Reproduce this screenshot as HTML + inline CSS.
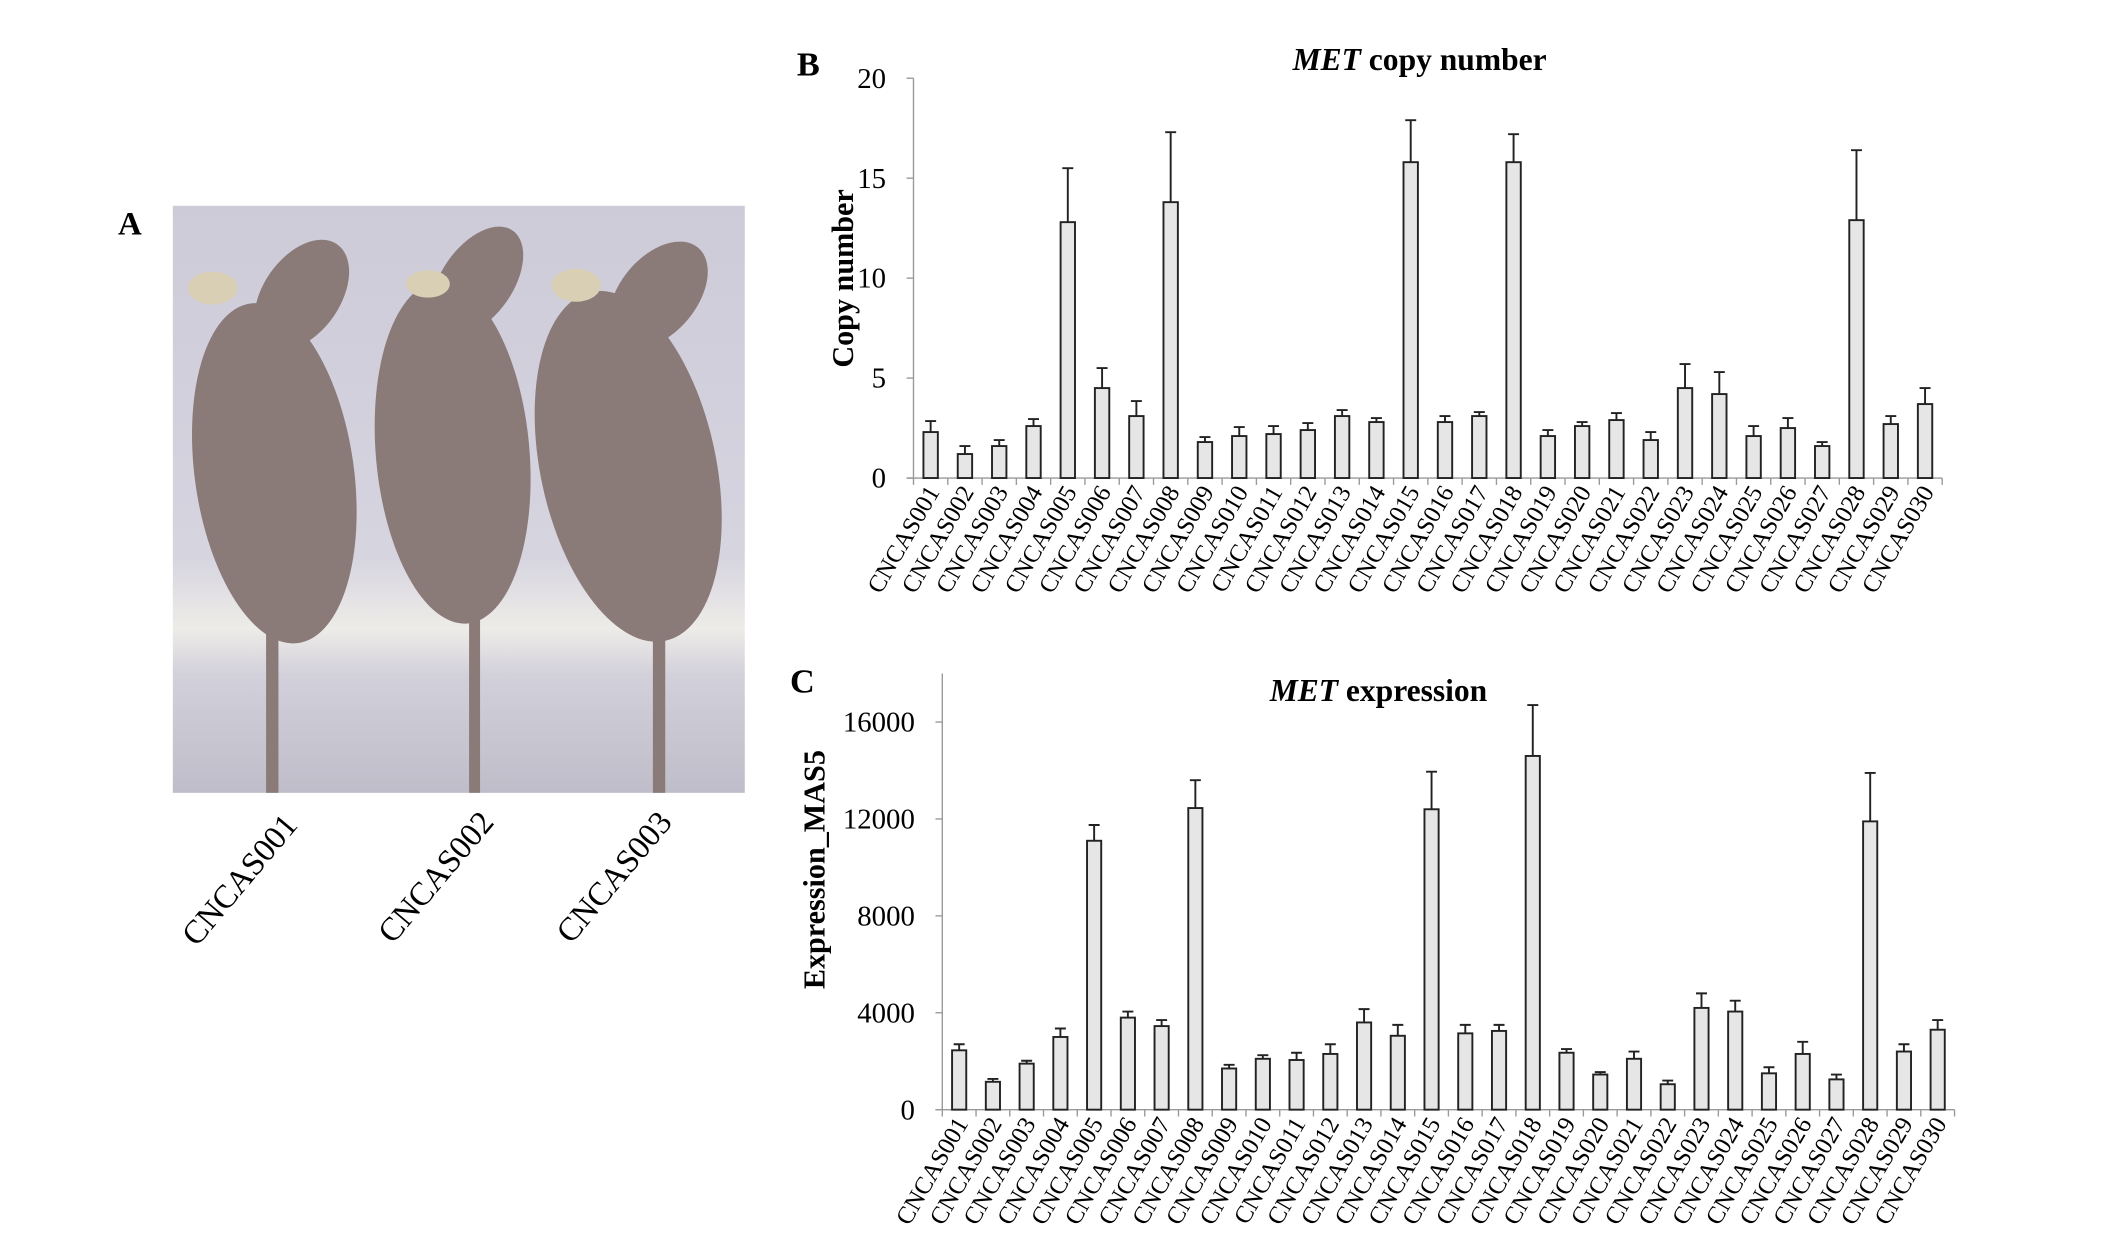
<!DOCTYPE html>
<html><head><meta charset="utf-8">
<style>html,body{margin:0;padding:0;background:#fff}svg{display:block}</style>
</head><body>
<svg id="fig" width="2126" height="1240" viewBox="0 0 1550 904" xmlns="http://www.w3.org/2000/svg" font-family="'Liberation Serif', serif">
<defs>
<linearGradient id="bg" x1="0" y1="0" x2="0" y2="1">
<stop offset="0" stop-color="#cdcbd8"/><stop offset="0.6" stop-color="#d6d4df"/><stop offset="0.72" stop-color="#eeece8"/><stop offset="0.8" stop-color="#d2d0da"/><stop offset="1" stop-color="#bebdc9"/>
</linearGradient>
</defs>
<g>
<text x="86" y="171" font-size="24" font-weight="bold">A</text>
<rect x="126" y="150" width="417" height="428" fill="url(#bg)"/>
<g fill="#8a7a78">
<ellipse cx="200" cy="345" rx="58" ry="125" transform="rotate(-8 200 345)"/>
<ellipse cx="220" cy="215" rx="28" ry="45" transform="rotate(35 220 215)"/>
<rect x="194" y="440" width="9" height="138"/>
<ellipse cx="330" cy="330" rx="56" ry="125" transform="rotate(-5 330 330)"/>
<ellipse cx="348" cy="205" rx="26" ry="45" transform="rotate(35 348 205)"/>
<rect x="342" y="440" width="8" height="138"/>
<ellipse cx="458" cy="340" rx="64" ry="130" transform="rotate(-12 458 340)"/>
<ellipse cx="480" cy="215" rx="28" ry="45" transform="rotate(40 480 215)"/>
<rect x="476" y="460" width="9" height="118"/>
</g>
<g fill="#d8cfb5"><ellipse cx="155" cy="210" rx="18" ry="12"/><ellipse cx="312" cy="207" rx="16" ry="10"/><ellipse cx="420" cy="208" rx="18" ry="12"/></g>
<g font-size="24" text-anchor="end">
<text transform="translate(218,602) rotate(-50)">CNCAS001</text>
<text transform="translate(361,600) rotate(-50)">CNCAS002</text>
<text transform="translate(491,600) rotate(-50)">CNCAS003</text>
</g>
</g>
<g id="chartB"></g>
<g id="chartC"></g>
</svg>
<script>
const categories = ["CNCAS001","CNCAS002","CNCAS003","CNCAS004","CNCAS005","CNCAS006","CNCAS007","CNCAS008","CNCAS009","CNCAS010","CNCAS011","CNCAS012","CNCAS013","CNCAS014","CNCAS015","CNCAS016","CNCAS017","CNCAS018","CNCAS019","CNCAS020","CNCAS021","CNCAS022","CNCAS023","CNCAS024","CNCAS025","CNCAS026","CNCAS027","CNCAS028","CNCAS029","CNCAS030"];
const copyValues = [2.3,1.2,1.6,2.6,12.8,4.5,3.1,13.8,1.8,2.1,2.2,2.4,3.1,2.8,15.8,2.8,3.1,15.8,2.1,2.6,2.9,1.9,4.5,4.2,2.1,2.5,1.6,12.9,2.7,3.7];
const copyErrors = [0.55,0.4,0.3,0.35,2.7,1.0,0.75,3.5,0.25,0.45,0.4,0.35,0.3,0.2,2.1,0.3,0.2,1.4,0.3,0.2,0.35,0.4,1.2,1.1,0.5,0.5,0.2,3.5,0.4,0.8];
const copyTicks = [0,5,10,15,20];
const exprValues = [2450,1150,1900,3000,11100,3800,3450,12450,1700,2100,2050,2300,3600,3050,12400,3150,3250,14600,2350,1450,2100,1050,4200,4050,1500,2300,1250,11900,2400,3300];
const exprErrors = [250,120,120,350,650,250,250,1150,150,150,300,400,550,450,1550,350,250,2100,150,100,300,150,600,450,250,500,200,2000,300,400];
const exprTicks = [0,4000,8000,12000,16000];

const NS="http://www.w3.org/2000/svg";
function mk(parent, tag, attrs, text){const e=document.createElementNS(NS,tag);for(const k in attrs)e.setAttribute(k,attrs[k]);if(text!==undefined)e.textContent=text;parent.appendChild(e);return e;}

function drawChart(g, cfg){
  const {x0,x1,y0,yTop,yMax,axTop,values,errors,ticks,title,ytitle,letter,lx,ly,tx,ty,ytx,yty,ytSize}=cfg;
  const n=values.length, band=(x1-x0)/n, bw=band*0.42;
  const yS=v=>y0-(v/yMax)*(y0-yTop);
  const xS=i=>x0+band*(i+0.5);
  const L=mk(g,'text',{x:lx,y:ly,'font-size':25,'font-weight':'bold'},letter);
  
  
  const t=mk(g,'text',{x:tx,y:ty,'font-size':23,'font-weight':'bold','text-anchor':'middle'});
  
  
  mk(t,'tspan',{'font-style':'italic'},'MET');mk(t,'tspan',{},title);
  const yt=mk(g,'text',{transform:`translate(${ytx},${yty}) rotate(-90)`,'font-size':ytSize,'font-weight':'bold','text-anchor':'middle'},ytitle);
  
  
  const ya=mk(g,'line',{x1:x0,y1:axTop,x2:x0,y2:y0,stroke:'#999','stroke-width':1});
  
  
  const xa=mk(g,'line',{x1:x0-5,y1:y0,x2:x1,y2:y0,stroke:'#999','stroke-width':1});
  
  
  ticks.forEach(v=>{
    const y=yS(v);
    mk(g,'line',{x1:x0-5,y1:y,x2:x0,y2:y,stroke:'#999'});
    const tl=mk(g,'text',{x:x0-20,y:y+7,'font-size':21,'text-anchor':'end'},String(v));
    
    
  });
  for(let i=0;i<=n;i++){const x=x0+band*i;mk(g,'line',{x1:x,y1:y0,x2:x,y2:y0+5,stroke:'#999'});}
  values.forEach((v,i)=>{
    const cx=xS(i), yv=yS(v), ye=yS(v+errors[i]);
    const eb=mk(g,'path',{d:`M${cx} ${yv}V${ye}M${cx-4} ${ye}H${cx+4}`,stroke:'#222','stroke-width':1.4,fill:'none'});
    
    
    const b=mk(g,'rect',{x:cx-bw/2,y:yv,width:bw,height:y0-yv,fill:'#e6e6e6',stroke:'#222','stroke-width':1.4});
    
    
    const cl=mk(g,'text',{transform:`translate(${cx+7},${y0+10}) rotate(-60)`,'font-size':18,'text-anchor':'end'},categories[i]);
    
    
  });
}
drawChart(document.getElementById('chartB'),{x0:666,x1:1416,y0:348.5,yTop:57,yMax:20,axTop:57,values:copyValues,errors:copyErrors,ticks:copyTicks,title:' copy number',ytitle:'Copy number',ytSize:22,letter:'B',lx:581,ly:55,tx:1035,ty:51,ytx:622,yty:203});
drawChart(document.getElementById('chartC'),{x0:687,x1:1425,y0:809,yTop:526.4,yMax:16000,axTop:491,values:exprValues,errors:exprErrors,ticks:exprTicks,title:' expression',ytitle:'Expression_MAS5',ytSize:22,letter:'C',lx:576,ly:505,tx:1005,ty:511,ytx:601,yty:634});
</script>
</body></html>
